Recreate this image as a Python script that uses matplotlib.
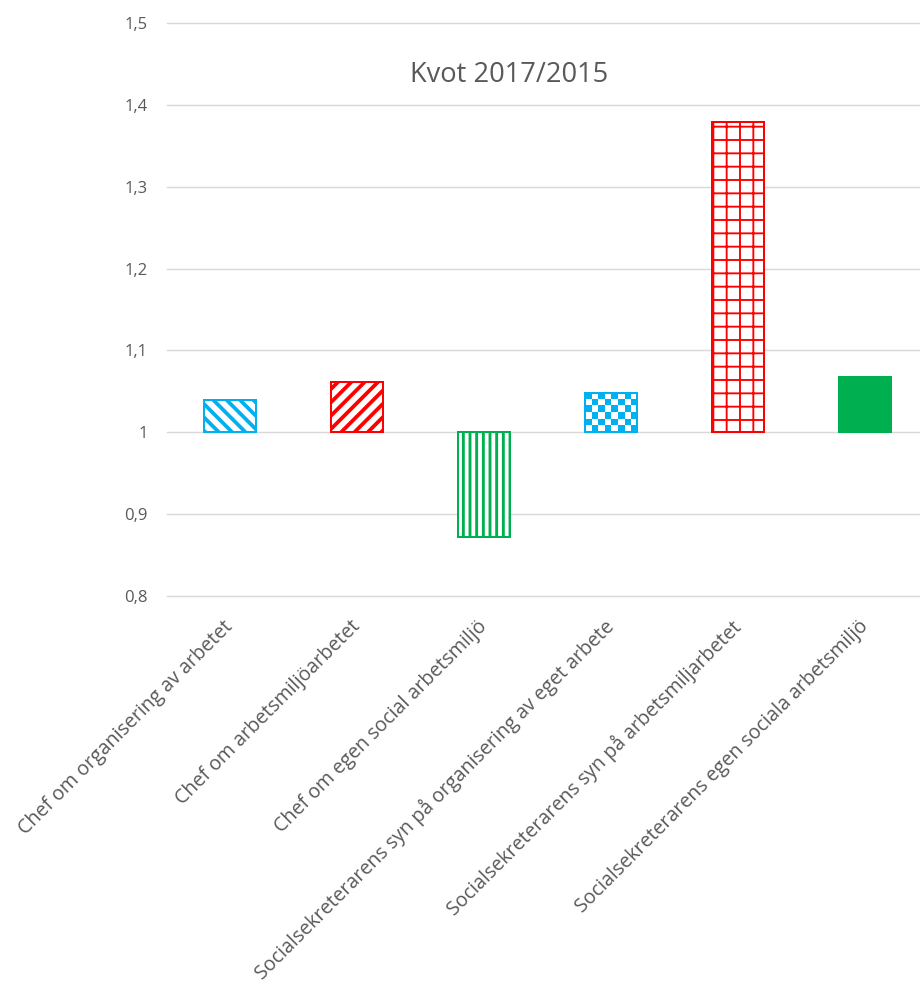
import numpy as np
import matplotlib
matplotlib.use('Agg')
import matplotlib.pyplot as plt
from matplotlib.colors import ListedColormap
from matplotlib.ticker import FuncFormatter

plt.rcParams['font.family'] = ['Open Sans', 'DejaVu Sans']

# data
kategorier = ['Chef om organisering av arbetet',
              'Chef om arbetsmiljöarbetet',
              'Chef om egen social arbetsmiljö',
              'Socialsekreterarens syn på organisering av eget arbete',
              'Socialsekreterarens syn på arbetsmiljarbetet',
              'Socialsekreterarens egen sociala arbetsmiljö']
kvot = [1.039, 1.062, 0.872, 1.048, 1.379, 1.068]
bas = 1.0

blue = '#00B0F0'
red = '#FF0000'
green = '#00B050'
grey = '#595959'
farger = [blue, red, green, blue, red, green]
monster = ['\\\\', '//', '||', None, '+', None]
hatch_lw = [3.4, 3.4, 2.6, 0, 1.7, 0]

fig = plt.figure(figsize=(920 / 80, 989 / 80), dpi=80)
ax = fig.add_axes([166.5 / 920, 1 - 596 / 989, 762 / 920, 573 / 989])

x = np.arange(len(kategorier))
hojd = [v - bas for v in kvot]
bars = ax.bar(x, hojd, bottom=bas, width=0.417, zorder=2)

for i, b in enumerate(bars):
    b.set_edgecolor(farger[i])
    b.set_linewidth(1.8)
    if monster[i] is not None:
        b.set_facecolor('white')
        b.set_hatch(monster[i])
        try:
            b.set_hatch_linewidth(hatch_lw[i])
        except AttributeError:
            pass
    elif i == 5:
        b.set_facecolor(farger[i])
    else:
        b.set_facecolor('none')

# rutmönster för stapel 4
b = bars[3]
bx, by, bw, bh = b.get_x(), b.get_y(), b.get_width(), b.get_height()
ncol = 8
nrow = max(1, int(round(bh / 0.0081)))
rutor = (np.add.outer(np.arange(nrow), np.arange(ncol)) % 2)
img = ax.imshow(rutor, cmap=ListedColormap(['white', blue]), extent=(bx, bx + bw, by, by + bh),
                aspect='auto', interpolation='nearest', zorder=1, origin='lower')
img.set_clip_path(b)

ax.set_xlim(-0.5, len(kategorier) - 0.5)
ax.set_ylim(0.8, 1.5)
ax.set_yticks([0.8, 0.9, 1.0, 1.1, 1.2, 1.3, 1.4, 1.5])
ax.yaxis.set_major_formatter(FuncFormatter(lambda v, p: ('%g' % round(v, 1)).replace('.', ',')))
ax.grid(axis='y', color='#D9D9D9', linewidth=1.3, zorder=0)
for gl in ax.get_ygridlines():
    gl.set_clip_on(False)
ax.set_axisbelow(True)
for s in ax.spines.values():
    s.set_visible(False)
ax.tick_params(axis='y', length=0, pad=17, labelsize=15, labelcolor=grey)
ax.tick_params(axis='x', length=0, pad=25, labelsize=17.7, labelcolor=grey)
ax.set_xticks(x)
ax.set_xticklabels(kategorier, rotation=45, ha='right', va='center', rotation_mode='anchor')

fig.text(509 / 920, 1 - 75 / 989, 'Kvot 2017/2015', ha='center', va='center', fontsize=24.5, color=grey)

fig.savefig('out.png', dpi=80, facecolor='white')
